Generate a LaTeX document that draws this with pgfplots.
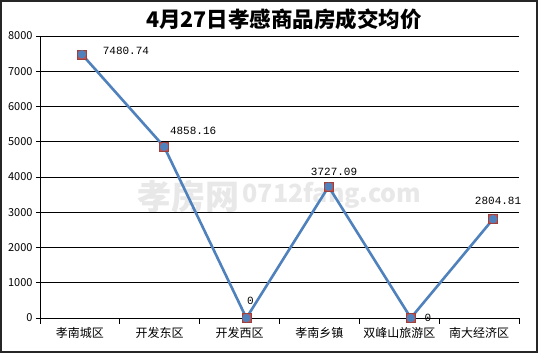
\documentclass[border=0pt]{standalone}
\usepackage{fontspec}
\setmainfont{Noto Sans CJK SC}
\newfontfamily\monofont{Liberation Mono}
\usepackage{pgfplots}
\pgfplotsset{compat=1.18}
\definecolor{linecol}{HTML}{4F81BD}
\definecolor{markcol}{HTML}{C0504D}
\begin{document}
\begin{tikzpicture}[x=1pt,y=1pt]
\useasboundingbox (0,0) rectangle (538,353);
\fill[white] (0,0) rectangle (538,353);
\draw[line width=1.6pt,black!85] (0.8,0.8) rectangle (537.2,352.2);
\node[font=\bfseries\fontsize{21.5}{24}\selectfont] at (284,334) {4月27日孝感商品房成交均价};
\node[font=\fontsize{34}{36}\selectfont\bfseries, text=black!9] at (188,156) {孝房网};
\node[font=\fontsize{25}{28}\selectfont\bfseries, text=black!9] at (332,158) {0712fang.com};
\begin{axis}[
  at={(40pt,35pt)}, anchor=south west,
  scale only axis, width=479pt, height=282pt,
  xmin=-0.5, xmax=5.5, ymin=0, ymax=8000,
  axis lines*=left,
  axis line style={black, line width=0.8pt},
  xtick={0,...,5},
  xticklabels={孝南城区,开发东区,开发西区,孝南乡镇,双峰山旅游区,南大经济区},
  major x tick style={draw=none},
  minor xtick={-0.5,0.5,...,5.5},
  minor x tick style={black, line width=0.8pt},
  ytick={0,1000,...,8000},
  ymajorgrids, major grid style={black, line width=0.6pt},
  y tick style={black, line width=0.8pt},
  tick align=outside, major tick length=4pt, minor tick length=6pt,
  tick label style={font=\fontsize{11}{13}\selectfont},
  xticklabel style={font=\fontsize{12}{14}\selectfont, yshift=-2pt},
  /pgf/number format/assume math mode=true,
  scaled y ticks=false,
  yticklabel style={/pgf/number format/1000 sep={}},
  clip=false,
]
\addplot[only marks, mark=square*, mark size=4.5pt, mark options={fill=markcol, draw=markcol!80!black}] coordinates {
(0.025,7480.74) (1.055,4858.16) (2.085,0) (3.115,3727.09) (4.145,0) (5.175,2804.81)};
\addplot[linecol, line width=2.6pt, line join=round, mark=*, mark size=2.8pt, mark options={fill=linecol, draw=linecol}] coordinates {
(0.025,7480.74) (1.055,4858.16) (2.085,0) (3.115,3727.09) (4.145,0) (5.175,2804.81)};
\tikzset{lab/.style={font=\monofont\fontsize{11}{13}\selectfont, inner sep=0pt}}
\node[lab] at (axis cs:0.025,7480.74) [xshift=44pt, yshift=3pt] {7480.74};
\node[lab] at (axis cs:1.055,4858.16) [xshift=29pt, yshift=16pt] {4858.16};
\node[lab] at (axis cs:2.085,0) [xshift=4pt, yshift=17pt] {0};
\node[lab] at (axis cs:3.115,3727.09) [xshift=5.5pt, yshift=15pt] {3727.09};
\node[lab] at (axis cs:4.145,0) [xshift=17pt, yshift=0pt] {0};
\node[lab] at (axis cs:5.175,2804.81) [xshift=5pt, yshift=18pt] {2804.81};
\end{axis}
\end{tikzpicture}
\end{document}
